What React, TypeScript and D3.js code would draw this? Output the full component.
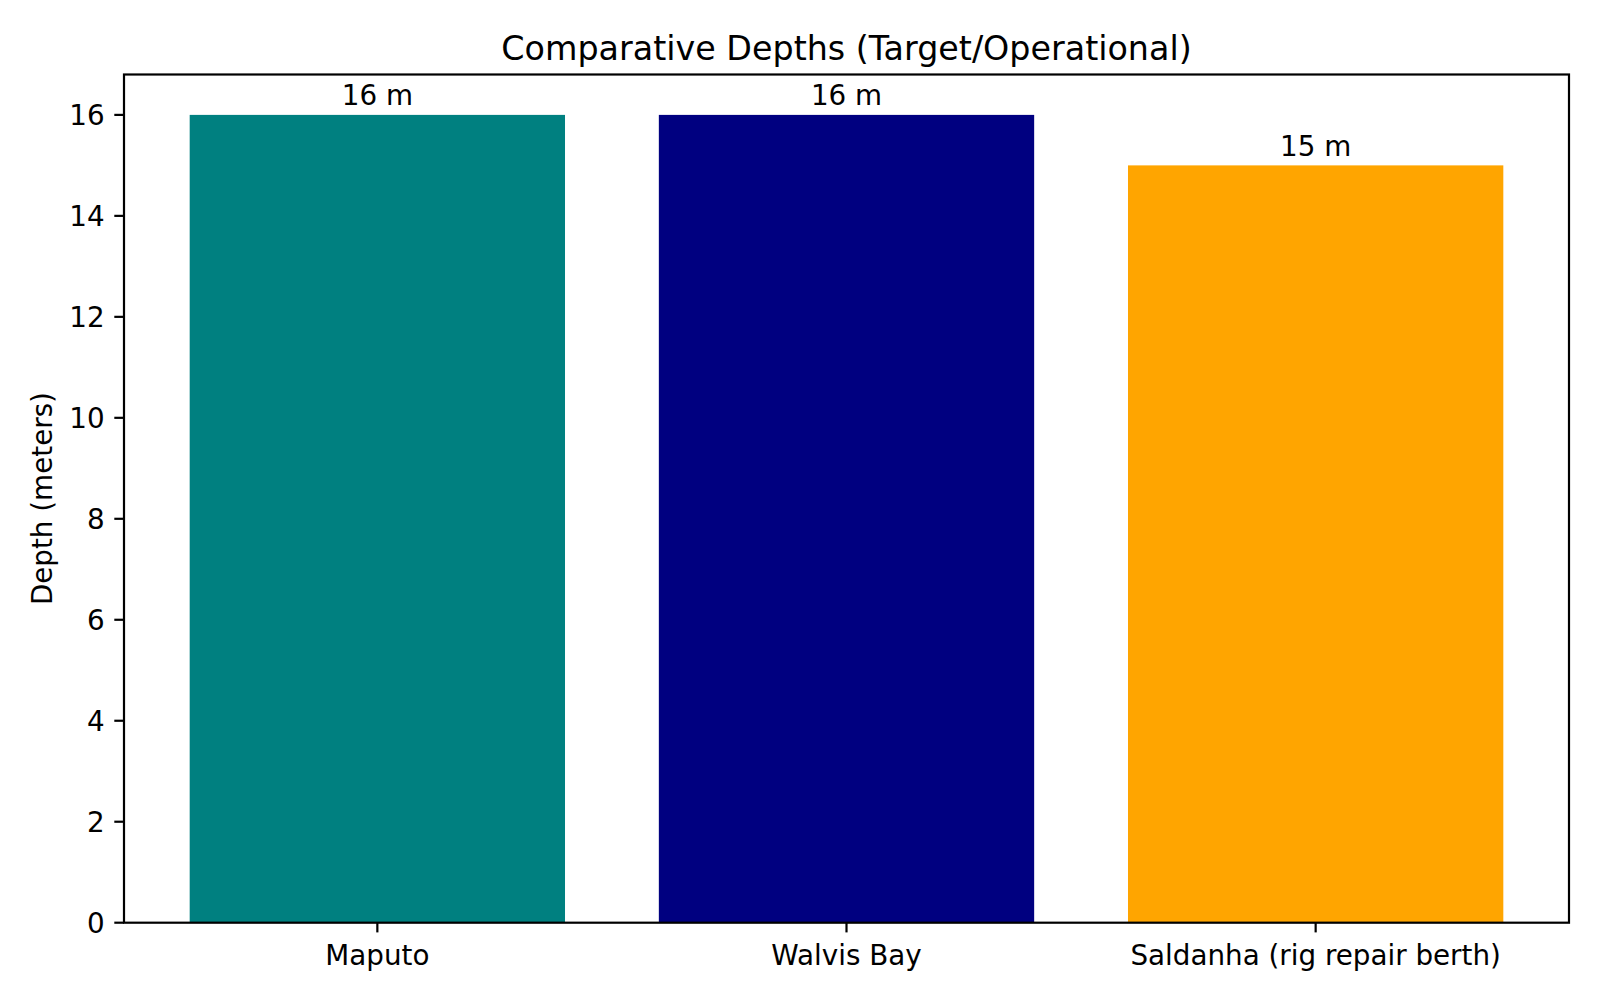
import React from "react";
import * as d3 from "d3";

const categories = ["Maputo", "Walvis Bay", "Saldanha (rig repair berth)"];
const depths = [16, 16, 15];
const labels = ["16 m", "16 m", "15 m"];
const colors = ["#008080", "#000080", "#FFA500"];
const yTicks = [0, 2, 4, 6, 8, 10, 12, 14, 16];

const W = 1600;
const H = 1000;
const left = 124;
const right = 1569;
const top = 74.5;
const bottom = 922.7;
const font = "'DejaVu Sans', sans-serif";
const tickFs = 27.78;
const titleFs = 33.33;

export default function App() {
  const x = d3.scaleLinear().domain([-0.54, 2.54]).range([left, right]);
  const y = d3.scaleLinear().domain([0, 16.8]).range([bottom, top]);
  const bw = x(0.4) - x(-0.4);
  return (
    <svg
      width={W}
      height={H}
      style={{ position: "absolute", left: 0, top: 0, background: "#fff" }}
      fontFamily={font}
    >
      <rect x={0} y={0} width={W} height={H} fill="#fff" />
      {depths.map((d, i) => (
        <rect
          key={"b" + i}
          x={x(i) - bw / 2}
          y={y(d)}
          width={bw}
          height={y(0) - y(d)}
          fill={colors[i]}
        />
      ))}
      {depths.map((d, i) => (
        <text
          key={"l" + i}
          x={x(i)}
          y={y(d + 0.1) - 4.5}
          fontSize={tickFs}
          textAnchor="middle"
          fill="#000"
        >
          {labels[i]}
        </text>
      ))}
      <rect
        x={left}
        y={top}
        width={right - left}
        height={bottom - top}
        fill="none"
        stroke="#000"
        strokeWidth={2.2}
      />
      {yTicks.map((t) => (
        <g key={"y" + t}>
          <line x1={left - 9.7} x2={left} y1={y(t)} y2={y(t)} stroke="#000" strokeWidth={2.2} />
          <text x={left - 19.4} y={y(t) + 10} fontSize={tickFs} textAnchor="end" fill="#000">
            {t}
          </text>
        </g>
      ))}
      {categories.map((c, i) => (
        <g key={"x" + i}>
          <line x1={x(i)} x2={x(i)} y1={bottom} y2={bottom + 9.7} stroke="#000" strokeWidth={2.2} />
          <text x={x(i)} y={965} fontSize={tickFs} textAnchor="middle" fill="#000">
            {c}
          </text>
        </g>
      ))}
      <text
        transform={`translate(52, ${(top + bottom) / 2}) rotate(-90)`}
        fontSize={tickFs}
        textAnchor="middle"
        fill="#000"
      >
        Depth (meters)
      </text>
      <text x={(left + right) / 2} y={60} fontSize={titleFs} textAnchor="middle" fill="#000">
        Comparative Depths (Target/Operational)
      </text>
    </svg>
  );
}
